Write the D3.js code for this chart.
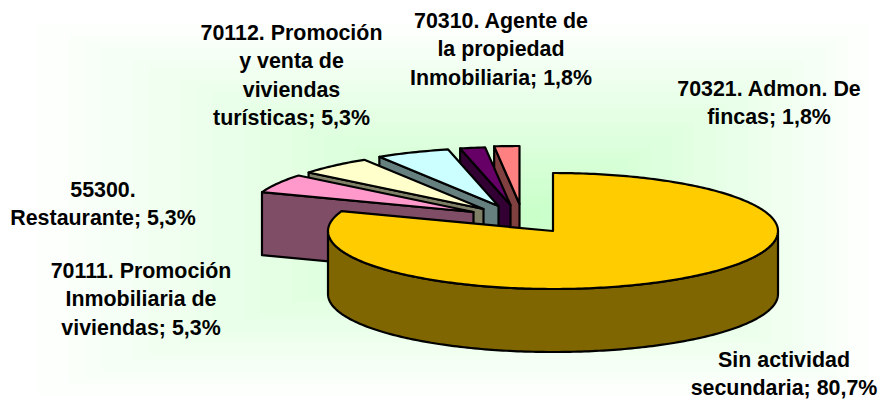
<!DOCTYPE html>
<html><head><meta charset="utf-8">
<style>html,body{margin:0;padding:0;background:#fff}svg{display:block}</style>
<script src="https://cdn.jsdelivr.net/npm/d3@7"></script></head>
<body><script>
const categories = ["Sin actividad secundaria","70111. Promoción Inmobiliaria de viviendas","55300. Restaurante","70112. Promoción y venta de viviendas turísticas","70310. Agente de la propiedad Inmobiliaria","70321. Admon. De fincas"];
const values = [80.7,5.3,5.3,5.3,1.8,1.8];
const valueLabels = ["80,7%","5,3%","5,3%","5,3%","1,8%","1,8%"];
const topColors = ["#FFCC00","#FF99CC","#FFFFCC","#CCFFFF","#660066","#FF8080"];
const wallColors = ["#806600","#804D66","#808066","#668080","#330033","#804040"];
const labelLines = [["Sin actividad","secundaria; 80,7%"],["70111. Promoción","Inmobiliaria de","viviendas; 5,3%"],["55300.","Restaurante; 5,3%"],["70112. Promoción","y venta de","viviendas","turísticas; 5,3%"],["70310. Agente de","la propiedad","Inmobiliaria; 1,8%"],["70321. Admon. De","fincas; 1,8%"]];

const W=880,H=401,cx=553,cy=231,rx=225,ry=58,depth=63;
const explode=[[0,0],[-79.5,-19],[-69.5,-22],[-54.5,-25],[-42.5,-26],[-33.5,-27]];
const labelPos=[[784,360],[141,271],[103,190],[291.5,33],[501,21],[769,89]];
const lh=28.3;

const svg=d3.select("body").append("svg").attr("width",W).attr("height",H);
// rectangular "from centre" background shading, outermost band first
const bgOuter={x0:22,y0:17,x1:880,y1:401},bgCentre=[530,215];
svg.append("rect").attr("width",W).attr("height",H).attr("fill","#FFFFFF");
const bgColor=d3.scaleLinear().domain([0,1]).range(["#FFFFFF","#C8FFC8"]);
const bands=d3.range(0,1,1/32);
svg.append("g").selectAll("rect").data(bands).join("rect")
  .attr("x",t=>bgOuter.x0+(bgCentre[0]-bgOuter.x0)*t)
  .attr("y",t=>bgOuter.y0+(bgCentre[1]-bgOuter.y0)*t)
  .attr("width",t=>(bgOuter.x1-bgOuter.x0)*(1-t))
  .attr("height",t=>(bgOuter.y1-bgOuter.y0)*(1-t))
  .attr("fill",t=>bgColor(t));

const pie=d3.pie().value(d=>d).sort(null);
const arcs=pie(values);
const sx=d3.scaleLinear().domain([-1,1]).range([-rx,rx]);
const sy=d3.scaleLinear().domain([-1,1]).range([-ry,ry]);
const pt=(a,o,dy=0)=>[cx+o[0]+sx(Math.sin(a)),cy+o[1]+dy-sy(Math.cos(a))];
const line=d3.line();
const rim=(a0,a1,o,dy=0)=>{const n=Math.max(2,Math.ceil((a1-a0)*60));return d3.range(n+1).map(i=>pt(a0+(a1-a0)*i/n,o,dy));};
const sty=s=>s.attr("stroke","#000").attr("stroke-width",2.2).attr("stroke-linejoin","round");
const g=svg.append("g");

// back-to-front: small slices from the last, then the main slice
d3.range(arcs.length-1,0,-1).forEach(i=>{
  const a=arcs[i],o=explode[i],ap=[cx+o[0],cy+o[1]],p=pt(a.startAngle,o);
  g.append("path").attr("d",line([p,ap,[ap[0],ap[1]+depth],[p[0],p[1]+depth]])+"Z").attr("fill",wallColors[i]).call(sty);
  g.append("path").attr("d",line([ap,...rim(a.startAngle,a.endAngle,o)])+"Z").attr("fill",topColors[i]).call(sty);
});
const m=arcs[0],o0=explode[0];
const sideA=Math.PI/2,sideB=3*Math.PI/2;
g.append("path").attr("d",line([...rim(sideA,sideB,o0),...rim(sideA,sideB,o0,depth).reverse()])+"Z").attr("fill",wallColors[0]).call(sty);
g.append("path").attr("d",line([[cx,cy],...rim(m.startAngle,m.endAngle,o0)])+"Z").attr("fill",topColors[0]).call(sty);

labelLines.forEach((ls,i)=>{
  const t=svg.append("text").attr("text-anchor","middle").attr("font-family","'Liberation Sans',Arial,sans-serif").attr("font-weight","bold").attr("font-size",21.4).attr("fill","#000");
  ls.forEach((s,j)=>t.append("tspan").attr("x",labelPos[i][0]).attr("y",labelPos[i][1]+j*lh+7).text(s));
});
</script></body></html>
